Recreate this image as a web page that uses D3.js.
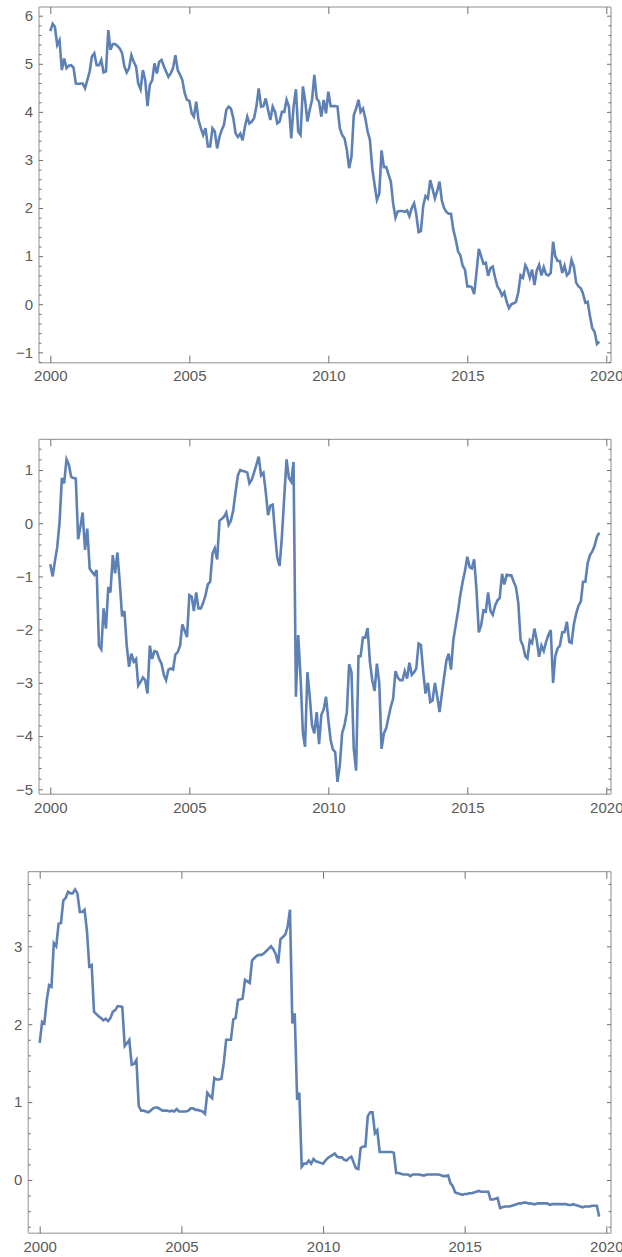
<!DOCTYPE html>
<html>
<head>
<meta charset="utf-8">
<script src="https://cdn.jsdelivr.net/npm/d3@7"></script>
<style>
  body { margin: 0; background: #fff; }
  svg text { font-family: "Liberation Sans", Arial, sans-serif; }
</style>
</head>
<body>
<svg id="chart" width="622" height="1257"></svg>
<script>
// monthly observations, Jan 2000 .. Oct 2019
const months = d3.timeMonth.range(new Date(2000, 0, 1), new Date(2019, 10, 1));
const yearTicks = [2000, 2005, 2010, 2015, 2020];

const series1 = [
  5.68, 5.83, 5.77, 5.39, 5.49, 4.87, 5.11, 4.91, 4.96, 4.97, 4.92, 4.59,
  4.58, 4.59, 4.59, 4.49, 4.66, 4.84, 5.15, 5.22, 4.97, 4.97, 5.08, 4.82,
  4.84, 5.70, 5.29, 5.41, 5.41, 5.37, 5.32, 5.22, 4.94, 4.82, 4.91, 5.18,
  5.04, 4.94, 4.59, 4.47, 4.87, 4.66, 4.12, 4.56, 4.66, 5.01, 4.80, 5.04,
  5.08, 4.95, 4.84, 4.73, 4.80, 4.91, 5.18, 4.87, 4.77, 4.66, 4.39, 4.25,
  4.23, 3.97, 3.90, 4.21, 3.83, 3.66, 3.52, 3.66, 3.28, 3.28, 3.66, 3.59,
  3.24, 3.48, 3.62, 3.73, 4.04, 4.11, 4.07, 3.87, 3.55, 3.48, 3.55, 3.41,
  3.69, 3.90, 3.76, 3.80, 3.87, 4.11, 4.49, 4.11, 4.12, 4.28, 4.04, 3.83,
  4.11, 4.00, 3.76, 3.80, 4.00, 4.00, 4.25, 4.11, 3.45, 4.11, 4.47, 3.59,
  3.52, 4.53, 4.25, 3.80, 4.04, 4.25, 4.77, 4.28, 4.21, 3.90, 4.25, 3.97,
  4.42, 4.12, 4.12, 4.12, 4.11, 3.66, 3.52, 3.45, 3.21, 2.83, 3.07, 3.93,
  4.07, 4.25, 4.00, 4.07, 3.87, 3.59, 3.42, 2.83, 2.48, 2.17, 2.30, 3.20,
  2.85, 2.85, 2.70, 2.55, 2.10, 1.80, 1.93, 1.94, 1.94, 1.92, 1.95, 1.83,
  2.00, 2.10, 1.87, 1.50, 1.52, 2.05, 2.25, 2.20, 2.58, 2.40, 2.20, 2.35,
  2.55, 2.15, 2.00, 1.92, 1.88, 1.88, 1.55, 1.35, 1.10, 1.02, 0.80, 0.72,
  0.37, 0.37, 0.35, 0.21, 0.65, 1.15, 1.00, 0.84, 0.86, 0.59, 0.75, 0.78,
  0.55, 0.37, 0.30, 0.18, 0.25, 0.05, -0.08, 0.00, 0.02, 0.05, 0.25, 0.60,
  0.55, 0.81, 0.72, 0.55, 0.72, 0.40, 0.70, 0.82, 0.60, 0.77, 0.62, 0.60,
  0.65, 1.30, 1.00, 0.90, 0.90, 0.65, 0.80, 0.60, 0.65, 0.92, 0.78, 0.45,
  0.37, 0.33, 0.22, 0.03, 0.05, -0.25, -0.50, -0.58, -0.83, -0.78
];

const series2 = [
  -0.77, -1.0, -0.72, -0.45, 0.0, 0.85, 0.75, 1.2, 1.1, 0.87, 0.85, 0.84,
  -0.3, -0.05, 0.2, -0.5, -0.1, -0.85, -0.91, -0.97, -0.88, -2.3, -2.37, -1.6,
  -1.98, -1.2, -1.3, -0.6, -0.94, -0.55, -1.1, -1.75, -1.65, -2.3, -2.7, -2.45,
  -2.6, -2.55, -3.05, -2.98, -2.9, -2.95, -3.2, -2.3, -2.55, -2.4, -2.42, -2.55,
  -2.64, -2.85, -2.95, -2.75, -2.73, -2.75, -2.47, -2.42, -2.3, -1.9, -2.02, -2.14,
  -1.35, -1.38, -1.65, -1.3, -1.6, -1.6, -1.5, -1.35, -1.15, -1.1, -0.57, -0.47,
  -0.68, 0.05, 0.08, 0.12, 0.2, -0.03, 0.05, 0.25, 0.6, 0.9, 1.0, 0.98,
  0.97, 0.95, 0.75, 0.82, 0.95, 1.1, 1.25, 0.9, 0.95, 0.6, 0.15, 0.33,
  0.35, -0.2, -0.65, -0.8, -0.25, 0.5, 1.2, 0.85, 0.78, 1.15, -3.26, -2.1,
  -2.9, -3.95, -4.2, -2.8, -3.25, -3.8, -3.95, -3.55, -4.15, -3.6, -3.5, -3.26,
  -3.7, -4.08, -4.25, -4.3, -4.86, -4.55, -3.95, -3.8, -3.55, -2.65, -2.8, -4.24,
  -4.65, -2.5, -2.5, -2.15, -2.15, -1.97, -2.6, -2.95, -3.15, -2.64, -3.0, -4.24,
  -3.95, -3.85, -3.65, -3.45, -3.3, -2.78, -2.9, -2.95, -2.95, -2.78, -2.92, -2.62,
  -2.85, -2.8, -2.73, -2.26, -2.29, -2.8, -3.2, -3.0, -3.36, -3.33, -3.0, -3.25,
  -3.55, -3.2, -2.9, -2.58, -2.45, -2.75, -2.2, -1.92, -1.66, -1.35, -1.1, -0.9,
  -0.63, -0.83, -0.85, -0.68, -1.25, -2.05, -1.92, -1.64, -1.66, -1.3, -1.65, -1.72,
  -1.55, -1.45, -1.41, -0.95, -1.15, -0.97, -0.98, -0.98, -1.1, -1.2, -1.5, -2.2,
  -2.3, -2.5, -2.54, -2.2, -2.25, -1.98, -2.2, -2.51, -2.3, -2.4, -2.23, -2.1,
  -2.01, -3.0, -2.5, -2.35, -2.3, -2.05, -2.05, -1.85, -2.23, -2.25, -1.9, -1.7,
  -1.55, -1.47, -1.1, -1.1, -0.75, -0.6, -0.53, -0.42, -0.25, -0.18
];

const series3 = [
  1.76, 2.03, 2.01, 2.31, 2.5, 2.48, 3.04, 3.0, 3.29, 3.3, 3.59, 3.62,
  3.7, 3.68, 3.68, 3.73, 3.68, 3.44, 3.44, 3.47, 3.2, 2.74, 2.76, 2.16,
  2.13, 2.1, 2.08, 2.05, 2.07, 2.04, 2.08, 2.16, 2.18, 2.23, 2.23, 2.22,
  1.72, 1.76, 1.8, 1.48, 1.49, 1.54, 0.95, 0.89, 0.89, 0.88, 0.87, 0.89,
  0.92, 0.93, 0.93, 0.91, 0.89, 0.89, 0.89, 0.88, 0.89, 0.88, 0.91, 0.88,
  0.88, 0.88, 0.88, 0.89, 0.92, 0.92, 0.9, 0.9, 0.89, 0.88, 0.85, 1.12,
  1.08, 1.05, 1.31, 1.29, 1.29, 1.3, 1.5, 1.8, 1.8, 1.8, 2.06, 2.08,
  2.31, 2.32, 2.33, 2.57, 2.55, 2.53, 2.82, 2.85, 2.88, 2.89, 2.89, 2.91,
  2.94, 2.97, 3.0, 2.96, 2.9, 2.78, 3.09, 3.12, 3.15, 3.25, 3.47, 2.01,
  2.14, 1.03, 1.12, 0.17, 0.21, 0.21, 0.25, 0.21, 0.27, 0.24, 0.23, 0.22,
  0.21, 0.25, 0.28, 0.3, 0.32, 0.34, 0.3, 0.29, 0.29, 0.26, 0.25, 0.28,
  0.3, 0.22, 0.15, 0.14, 0.41, 0.43, 0.43, 0.82, 0.87, 0.87, 0.6, 0.64,
  0.36, 0.36, 0.36, 0.36, 0.36, 0.36, 0.35, 0.09, 0.09, 0.08, 0.07, 0.07,
  0.07, 0.05, 0.07, 0.07, 0.07, 0.07, 0.06, 0.06, 0.07, 0.07, 0.07, 0.07,
  0.07, 0.07, 0.06, 0.05, 0.05, 0.06, -0.04, -0.08, -0.16, -0.17, -0.18, -0.19,
  -0.18, -0.18, -0.17, -0.17, -0.16, -0.15, -0.14, -0.15, -0.15, -0.15, -0.15, -0.25,
  -0.25, -0.24, -0.23, -0.36, -0.35, -0.34, -0.34, -0.34, -0.33, -0.32, -0.31, -0.3,
  -0.3, -0.29, -0.29, -0.3, -0.3, -0.31, -0.31, -0.3, -0.3, -0.3, -0.3, -0.3,
  -0.32, -0.31, -0.31, -0.31, -0.31, -0.31, -0.31, -0.31, -0.32, -0.32, -0.31, -0.32,
  -0.33, -0.34, -0.35, -0.34, -0.34, -0.34, -0.33, -0.33, -0.33, -0.47
];

const svg = d3.select("#chart");
const lineColor = "#5e81b5";

// layout of each panel: frame box, plus where 2000/2020 and two y values land
const panels = [
  { values: series1, left: 39, right: 611, top: 7, bottom: 362.7,
    xr: [50.3, 606.3], yd: [-1, 6], yr: [352.3, 15.7] },
  { values: series2, left: 39, right: 611, top: 439.3, bottom: 794.3,
    xr: [50.3, 606.3], yd: [-5, 1], yr: [789.3, 470] },
  { values: series3, left: 28.3, right: 611, top: 871.7, bottom: 1233.3,
    xr: [39.7, 606.3], yd: [0, 3], yr: [1180, 946.3] }
];

panels.forEach(drawPanel);

function drawPanel(p) {
  const g = svg.append("g");
  const x = d3.scaleTime()
    .domain([new Date(2000, 0, 1), new Date(2020, 0, 1)])
    .range(p.xr);
  const y = d3.scaleLinear().domain(p.yd).range(p.yr);

  const lo = y.invert(p.bottom), hi = y.invert(p.top);
  const major = d3.range(Math.ceil(lo), Math.floor(hi) + 1);
  const minor = d3.range(Math.ceil(lo * 5 - 1e-6), Math.floor(hi * 5 + 1e-6) + 1)
    .filter((k) => k % 5 !== 0)
    .map((k) => k / 5);
  const years = yearTicks.map((yr) => new Date(yr, 0, 1));

  // frame
  g.append("line").attr("x1", p.left).attr("x2", p.right).attr("y1", p.top).attr("y2", p.top)
    .attr("stroke", "#8c8c8c").attr("stroke-width", 1);
  g.append("line").attr("x1", p.right).attr("x2", p.right).attr("y1", p.top).attr("y2", p.bottom)
    .attr("stroke", "#8c8c8c").attr("stroke-width", 1);
  g.append("line").attr("x1", p.left).attr("x2", p.right).attr("y1", p.bottom).attr("y2", p.bottom)
    .attr("stroke", "#b4b4b4").attr("stroke-width", 1.5);
  g.append("line").attr("x1", p.left).attr("x2", p.left).attr("y1", p.top).attr("y2", p.bottom)
    .attr("stroke", "#b4b4b4").attr("stroke-width", 1.5);

  const axes = [
    g.append("g").attr("transform", `translate(0,${p.bottom})`)
      .call(d3.axisBottom(x).tickValues(years).tickSize(-7).tickPadding(8)
        .tickFormat(d3.timeFormat("%Y"))),
    g.append("g").attr("transform", `translate(0,${p.top})`)
      .call(d3.axisTop(x).tickValues(years).tickSize(-7).tickFormat("")),
    g.append("g").attr("transform", `translate(${p.left},0)`)
      .call(d3.axisLeft(y).tickValues(major).tickSize(-4).tickPadding(6)
        .tickFormat(d3.format("d"))),
    g.append("g").attr("transform", `translate(${p.left},0)`)
      .call(d3.axisLeft(y).tickValues(minor).tickSize(-2.5).tickFormat("")),
    g.append("g").attr("transform", `translate(${p.right},0)`)
      .call(d3.axisRight(y).tickValues(major).tickSize(-4).tickFormat("")),
    g.append("g").attr("transform", `translate(${p.right},0)`)
      .call(d3.axisRight(y).tickValues(minor).tickSize(-2.5).tickFormat(""))
  ];
  axes.forEach((a) => {
    a.select(".domain").remove();
    a.selectAll(".tick line").attr("stroke", "#6e6e6e");
    a.selectAll("text").attr("fill", "#5a5a5a").attr("font-size", 15)
      .attr("font-family", "'Liberation Sans', Arial, sans-serif");
  });

  const line = d3.line()
    .x((d, i) => x(months[i]))
    .y((d) => y(d));

  g.append("path")
    .datum(p.values)
    .attr("fill", "none")
    .attr("stroke", lineColor)
    .attr("stroke-width", 2.6)
    .attr("stroke-linejoin", "miter")
    .attr("d", line);
}
</script>
</body>
</html>
